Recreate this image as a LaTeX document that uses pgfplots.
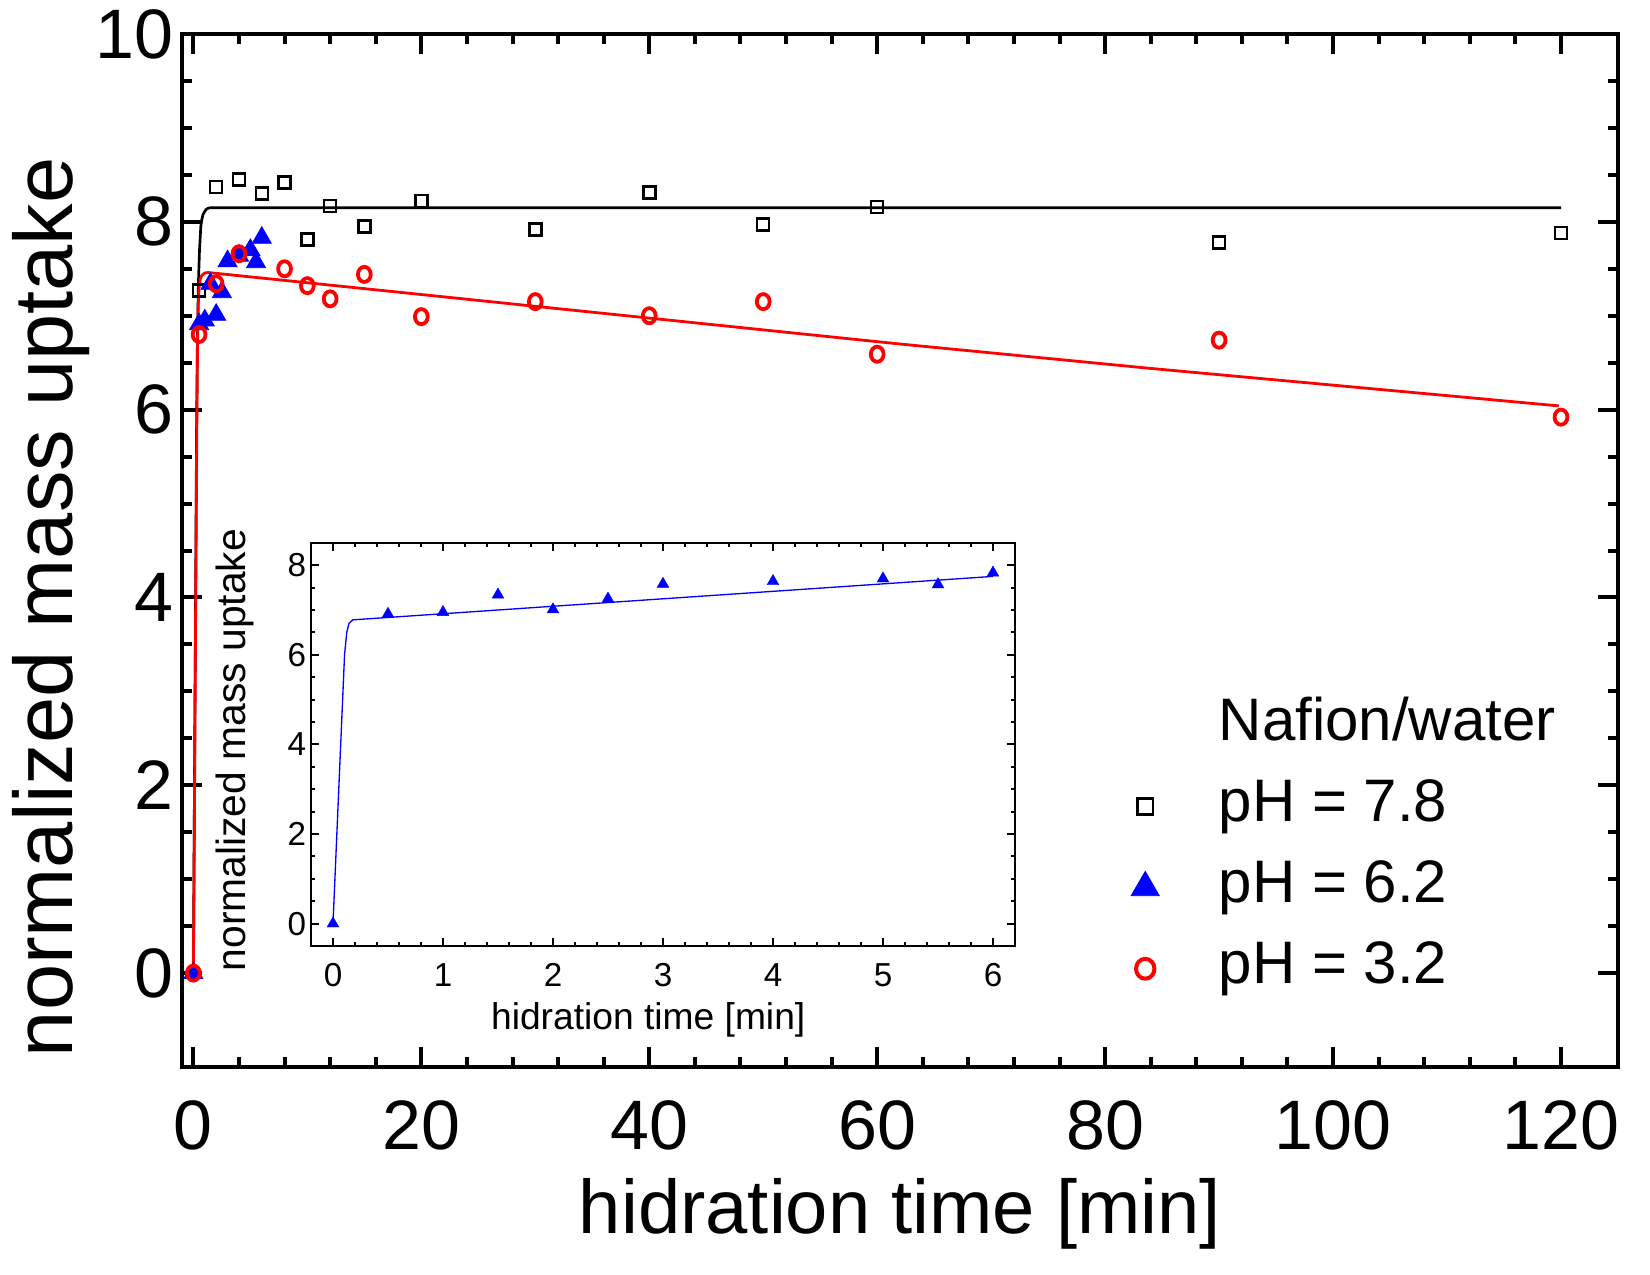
\documentclass[border=0pt]{standalone}
\usepackage{fontspec}
\setmainfont{Liberation Sans}
\usepackage{pgfplots}
\pgfplotsset{compat=1.18}
\begin{document}
\begin{tikzpicture}
\begin{axis}[
  name=main, at={(0,0)}, anchor=south west,
  width=359pt, height=258.25pt, scale only axis,
  xmin=-1, xmax=125, ymin=-1, ymax=10,
  xtick={0,20,...,120}, ytick={0,2,...,10},
  minor x tick num=4, minor y tick num=3,
  tick align=inside,
  major tick length=5pt, minor tick length=2.6pt,
  axis line style={line width=1pt},
  every tick/.style={line width=1pt, black},
  /pgf/number format/assume math mode=true,
  tick label style={font=\fontsize{17.5}{20}\selectfont},
  xticklabel style={yshift=-4.8pt},
  yticklabel style={xshift=1.4pt},
  xlabel={hidration time [min]},
  ylabel={normalized mass uptake},
  xlabel style={font=\fontsize{19}{22}\selectfont, at={(axis description cs:0.5,-0.1607)}, anchor=base},
  ylabel style={font=\fontsize{20.75}{24}\selectfont, at={(axis description cs:-0.0766,0.445)}, anchor=base},
  legend style={at={(0.647,0.359)}, anchor=north west, draw=none, fill=none,
    inner sep=0pt, outer sep=0pt, font=\fontsize{15}{18}\selectfont,
    row sep=5.8pt, column sep=14.9pt,
    nodes={inner sep=0pt, text height=11pt, text depth=3.5pt}},
  legend cell align=left,
]
\addlegendimage{empty legend}
\addlegendentry{Nafion/water}
\addlegendimage{only marks, mark=square, mark size=1.96pt, line width=0.65pt, black}
\addlegendentry{pH = 7.8}
\addlegendimage{only marks, mark=triangle*, mark size=4.05pt, blue, mark options={fill=blue, draw=blue, line width=0.2pt}}
\addlegendentry{pH = 6.2}
\addlegendimage{only marks, mark=o, mark size=2.3pt, line width=1.0pt, red, mark options={yscale=1.08}}
\addlegendentry{pH = 3.2}

% fit pH 7.8
\addplot[forget plot, black, line width=0.67pt] coordinates {
(0,0) (0.1,2.1) (0.2,4.1) (0.28,5.8) (0.35,6.7) (0.44,7.34) (0.53,7.68)
(0.65,7.95) (0.75,8.03) (0.85,8.08) (1.0,8.11) (1.1,8.13) (1.3,8.145) (1.5,8.15) (120,8.15)};
% data pH 7.8
\addplot[forget plot, only marks, mark=square, mark size=1.5pt, line width=0.62pt, black] coordinates {
(0.5,7.27) (2,8.37) (4,8.45) (6,8.30) (8,8.42) (10,7.81) (12,8.17) (15,7.95)
(20,8.22) (30,7.92) (40,8.31) (50,7.97) (60,8.16) (90,7.78) (120,7.88)};
% data pH 6.2
\addplot[forget plot, only marks, mark=triangle*, mark size=2.75pt, blue, mark options={fill=blue, draw=blue, line width=0.2pt}] coordinates {
(0,0) (0.5,6.91) (1,6.95) (1.5,7.34) (2,7.01) (2.5,7.25) (3,7.58) (4,7.64) (5,7.70) (5.5,7.57) (6,7.83)};
% fit pH 3.2
\addplot[forget plot, red, line width=0.7pt] coordinates {
(0,0) (0.1,1.9) (0.2,3.9) (0.3,5.8) (0.36,6.7) (0.42,7.1) (0.5,7.3) (0.6,7.39)
(0.75,7.43) (1.0,7.455) (1.3,7.46) (18.07,7.25) (61.9,6.70) (83.9,6.44) (119.8,6.04)};
% data pH 3.2
\addplot[forget plot, only marks, mark=o, mark size=1.6pt, line width=0.95pt, red, mark options={yscale=1.18}] coordinates {
(0,0) (0.5,6.80) (2,7.34) (4,7.66) (8,7.50) (10,7.32) (12,7.18) (15,7.44)
(20,6.99) (30,7.15) (40,7.00) (50,7.15) (60,6.59) (90,6.74) (120,5.92)};
\end{axis}

\begin{axis}[
  at={(32.25pt,30.25pt)}, anchor=south west,
  width=176pt, height=100.8pt, scale only axis,
  xmin=-0.2, xmax=6.2, ymin=-0.5, ymax=8.5,
  xtick={0,1,...,6}, ytick={0,2,...,8},
  minor x tick num=4, minor y tick num=3,
  tick align=inside,
  major tick length=2pt, minor tick length=1pt,
  axis line style={line width=0.5pt},
  every tick/.style={line width=0.5pt, black},
  /pgf/number format/assume math mode=true,
  tick label style={font=\fontsize{8.3}{9.6}\selectfont},
  xticklabel style={yshift=-0.8pt},
  yticklabel style={xshift=2.3pt},
  xlabel={hidration time [min]},
  ylabel={normalized mass uptake},
  xlabel style={font=\fontsize{9.3}{11}\selectfont, at={(axis description cs:0.479,-0.206)}, anchor=base},
  ylabel style={font=\fontsize{10.2}{12}\selectfont, at={(axis description cs:-0.093,0.486)}, anchor=base},
]
\addplot[blue, line width=0.33pt] coordinates {
(0,0) (0.035,2) (0.07,4) (0.105,6) (0.125,6.5) (0.145,6.7) (0.18,6.78) (6,7.75)};
\addplot[only marks, mark=triangle*, mark size=1.7pt, blue, mark options={fill=blue, draw=blue, line width=0.1pt}] coordinates {
(0,0) (0.5,6.91) (1,6.95) (1.5,7.34) (2,7.01) (2.5,7.25) (3,7.58) (4,7.64) (5,7.70) (5.5,7.57) (6,7.83)};
\end{axis}
\pgfresetboundingbox
\path (-45.5pt,-52pt) rectangle (367pt,266.75pt);
\end{tikzpicture}
\end{document}
